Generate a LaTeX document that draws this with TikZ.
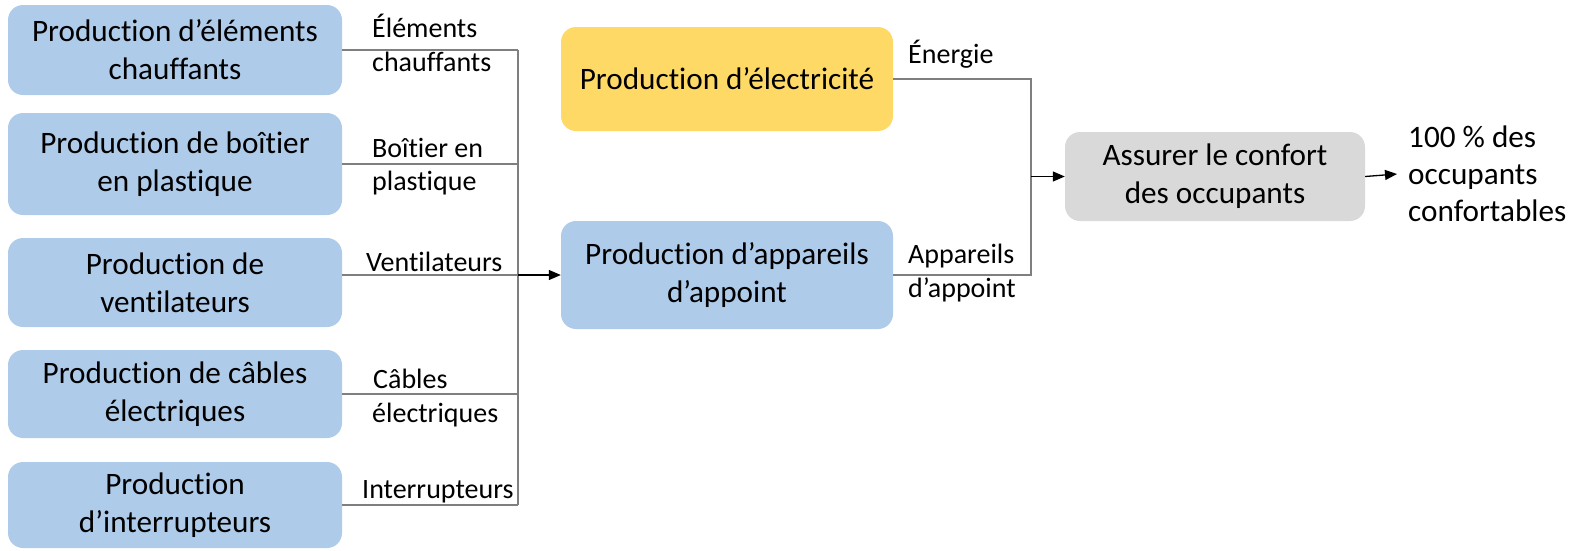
\documentclass[tikz,border=0pt]{standalone}
\usepackage{fontspec}
\setmainfont{Carlito}[Ligatures=NoCommon]
\usetikzlibrary{arrows.meta}
\definecolor{srcblue}{HTML}{AECBEA}
\definecolor{srcyellow}{HTML}{FFD966}
\definecolor{srcgray}{HTML}{D9D9D9}
\definecolor{wire}{HTML}{7F7F7F}
\begin{document}
\begin{tikzpicture}[x=1pt,y=-1pt,
  procbox/.style={rounded corners=15pt, inner sep=0pt, align=center,
    font=\fontsize{31.2}{38}\selectfont},
  bluebox/.style={procbox, fill=srcblue},
  flowlabel/.style={inner sep=0pt, align=left, anchor=base west,
    font=\fontsize{28}{34}\selectfont},
  conn/.style={draw=wire, line width=1.3pt},
  arr/.style={draw=black, line width=1.3pt, -{Triangle[length=12pt,width=10pt]}}
]
\useasboundingbox (0,0) rectangle (1577,550);

% suppliers on the left
\node[bluebox, minimum width=334pt, minimum height=90pt]  (b1) at (175,50)    {Production d’éléments\\chauffants};
\node[bluebox, minimum width=334pt, minimum height=102pt] (b2) at (175,164)   {Production de boîtier\\en plastique};
\node[bluebox, minimum width=334pt, minimum height=89pt]  (b3) at (175,282.5) {Production de\\ventilateurs};
\node[bluebox, minimum width=334pt, minimum height=88pt]  (b4) at (175,394)   {Production de câbles\\électriques};
\node[bluebox, minimum width=334pt, minimum height=86pt]  (b5) at (175,505)   {Production\\d’interrupteurs};

% middle column
\node[procbox, fill=srcyellow, minimum width=332pt, minimum height=104pt] (elec) at (727,79) {Production d’électricité};
\node[bluebox, minimum width=332pt, minimum height=108pt] (app) at (727,275) {Production d’appareils\\d’appoint};

% function and result
\node[procbox, fill=srcgray, minimum width=300pt, minimum height=89pt] (conf) at (1215,176.5) {Assurer le confort\\des occupants};
\node[inner sep=0pt, inner xsep=11pt, anchor=west, align=left,
  font=\fontsize{31.2}{37}\selectfont] (out) at (1397,174) {100 \% des\\occupants\\confortables};

% collecting buses
\coordinate (busL) at (518,0);
\coordinate (busR) at (1031,0);

\draw[conn] (b1.east) -- (b1.east -| busL);
\draw[conn] (b2.east) -- (b2.east -| busL);
\draw[conn] (b3.east |- app.west) -- (app.west -| busL);
\draw[conn] (b4.east) -- (b4.east -| busL);
\draw[conn] (b5.east) -- (b5.east -| busL);
\draw[conn] (b1.east -| busL) -- (b5.east -| busL);
\draw[arr] (app.west -| busL) -- (app.west);

\draw[conn] (elec.east) -- (elec.east -| busR) -- (app.east -| busR) -- (app.east);
\draw[arr] (conf.west -| busR) -- (conf.west);
\draw[arr] (conf.east) -- (out.west);

% flow labels
\node[flowlabel] (l1) at (372,37)  {Éléments};
\node[flowlabel] (l1b) at (372,71) {chauffants};
\node[flowlabel] (l2) at (372,157) {Boîtier en};
\node[flowlabel] (l2b) at (372,190) {plastique};
\node[flowlabel] (l3) at (366,271) {Ventilateurs};
\node[flowlabel] (l4) at (373,388) {Câbles};
\node[flowlabel] (l4b) at (372,422) {électriques};
\node[flowlabel] (l5) at (362,498) {Interrupteurs};
\node[flowlabel] (l6) at (908,63)  {Énergie};
\node[flowlabel] (l7) at (908,263) {Appareils};
\node[flowlabel] (l7b) at (908,297) {d’appoint};
\end{tikzpicture}
\end{document}
